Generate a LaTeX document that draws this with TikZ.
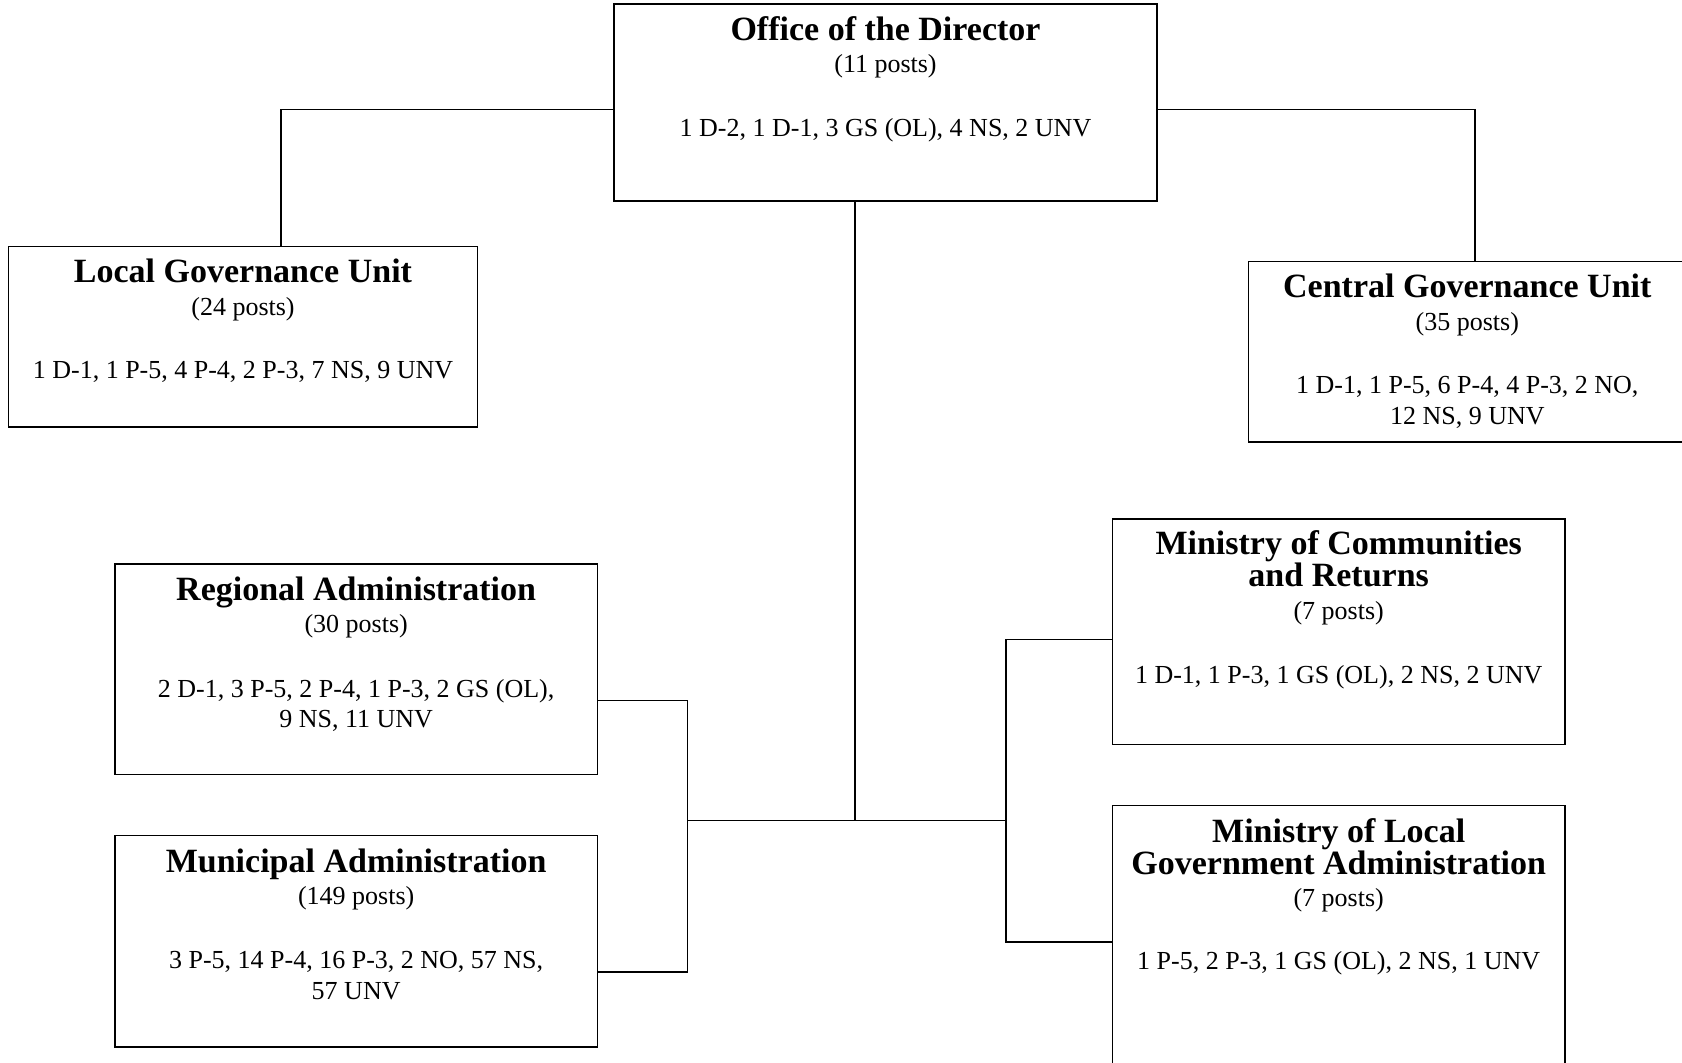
\documentclass[tikz,border=0pt]{standalone}
\usepackage{fontspec}
\setmainfont{Liberation Serif}
\begin{document}
\begin{tikzpicture}[x=0.5pt,y=-0.5pt,
  unitbox/.style={draw=black, line width=0.75pt, rectangle, inner sep=0pt},
  ttl/.style={anchor=base, inner sep=0pt, font=\fontsize{17}{20}\selectfont\bfseries},
  sub/.style={anchor=base, inner sep=0pt, font=\fontsize{13}{15.5}\selectfont},
  link/.style={draw=black, line width=0.75pt}]
\useasboundingbox[fill=white] (0,0) rectangle (1682,1063);

% unit boxes
\node[unitbox, minimum width=271.5pt, minimum height=98.5pt] (off) at (885.5,102.5) {};
\node[unitbox, minimum width=234.4pt, minimum height=90.15pt] (lgu) at (243,336.85) {};
\node[unitbox, minimum width=218.7pt, minimum height=90.15pt] (cgu) at (1467.3,351.85) {};
\node[unitbox, minimum width=241.35pt, minimum height=105.15pt] (ra) at (356.15,669.35) {};
\node[unitbox, minimum width=241.35pt, minimum height=105.7pt] (ma) at (356.15,941.3) {};
\node[unitbox, minimum width=226.3pt, minimum height=112.65pt] (mcr) at (1338.7,631.85) {};
\node[unitbox, minimum width=226.3pt, minimum height=130.2pt] (mlga) at (1338.7,935.8) {};

% Office of the Director
\node[ttl] (off-t) at (885.5,41) {Office of the Director};
\node[sub] (off-p) at (885.5,73) {(11 posts)};
\node[sub] (off-g) at (885.5,137) {1 D-2, 1 D-1, 3 GS (OL), 4 NS, 2 UNV};

% Local Governance Unit
\node[ttl] (lgu-t) at (243,282.4) {Local Governance Unit};
\node[sub] (lgu-p) at (243,315.3) {(24 posts)};
\node[sub] (lgu-g) at (243,378.5) {1 D-1, 1 P-5, 4 P-4, 2 P-3, 7 NS, 9 UNV};

% Central Governance Unit
\node[ttl] (cgu-t) at (1467.3,297.4) {Central Governance Unit};
\node[sub] (cgu-p) at (1467.3,330.3) {(35 posts)};
\node[sub] (cgu-g1) at (1467.3,393.5) {1 D-1, 1 P-5, 6 P-4, 4 P-3, 2 NO,};
\node[sub] (cgu-g2) at (1467.3,424.7) {12 NS, 9 UNV};

% Regional Administration
\node[ttl] (ra-t) at (356.15,601) {Regional Administration};
\node[sub] (ra-p) at (356.15,632.8) {(30 posts)};
\node[sub] (ra-g1) at (356.15,697.2) {2 D-1, 3 P-5, 2 P-4, 1 P-3, 2 GS (OL),};
\node[sub] (ra-g2) at (356.15,727.2) {9 NS, 11 UNV};

% Municipal Administration
\node[ttl] (ma-t) at (356.15,872.4) {Municipal Administration};
\node[sub] (ma-p) at (356.15,904.2) {(149 posts)};
\node[sub] (ma-g1) at (356.15,968.5) {3 P-5, 14 P-4, 16 P-3, 2 NO, 57 NS,};
\node[sub] (ma-g2) at (356.15,999.7) {57 UNV};

% Ministry of Communities and Returns
\node[ttl] (mcr-t1) at (1338.7,554.9) {Ministry of Communities};
\node[ttl] (mcr-t2) at (1338.7,587) {and Returns};
\node[sub] (mcr-p) at (1338.7,619.9) {(7 posts)};
\node[sub] (mcr-g) at (1338.7,683.2) {1 D-1, 1 P-3, 1 GS (OL), 2 NS, 2 UNV};

% Ministry of Local Government Administration
\node[ttl] (mlga-t1) at (1338.7,842.3) {Ministry of Local};
\node[ttl] (mlga-t2) at (1338.7,874.5) {Government Administration};
\node[sub] (mlga-p) at (1338.7,906.3) {(7 posts)};
\node[sub] (mlga-g) at (1338.7,969.6) {1 P-5, 2 P-3, 1 GS (OL), 2 NS, 1 UNV};

% junction points
\coordinate (jl) at (281,109.4);
\coordinate (jr) at (1475,109.4);
\coordinate (hub) at (855,820.6);
\coordinate (bl) at (687.6,820.6);
\coordinate (br) at (1006.2,820.6);
\coordinate (ra-j) at (687.6,700.5);
\coordinate (ma-j) at (687.6,971.9);
\coordinate (mcr-j) at (1006.2,639.3);
\coordinate (mlga-j) at (1006.2,941.8);

% connectors
\draw[link] (jl -| off.west) -- (jl) -- (jl |- lgu.north);
\draw[link] (jr -| off.east) -- (jr) -- (jr |- cgu.north);
\draw[link] (hub |- off.south) -- (hub);
\draw[link] (bl) -- (br);
\draw[link] (ra-j -| ra.east) -- (ra-j) -- (ma-j) -- (ma-j -| ma.east);
\draw[link] (mcr-j -| mcr.west) -- (mcr-j) -- (mlga-j) -- (mlga-j -| mlga.west);
\end{tikzpicture}
\end{document}
